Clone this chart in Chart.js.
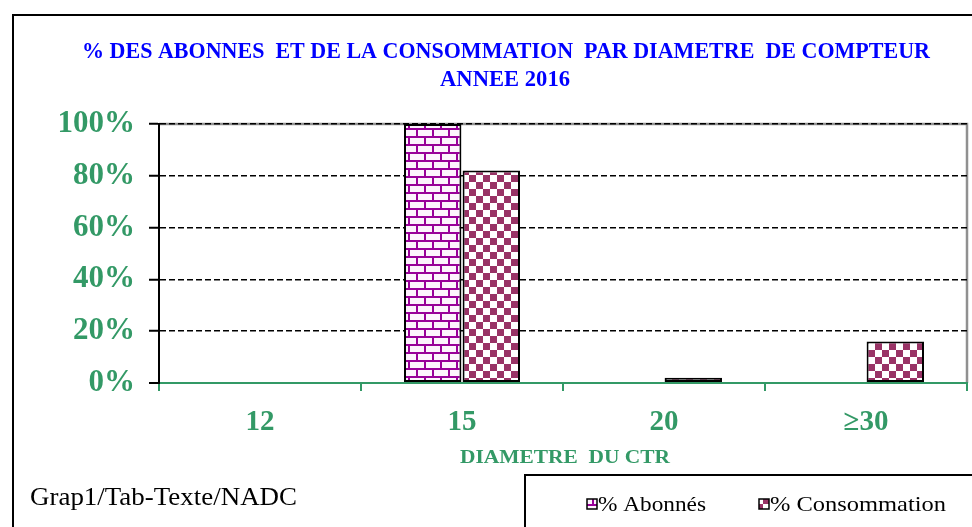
<!DOCTYPE html>
<html>
<head>
<meta charset="utf-8">
<script src="https://cdn.jsdelivr.net/npm/chart.js@4.4.1/dist/chart.umd.min.js"></script>
<style>
html, body { margin: 0; padding: 0; background: #fff; }
#wrap { width: 972px; height: 527px; }
</style>
</head>
<body>
<div id="wrap"><canvas id="chart" width="972" height="527"></canvas></div>
<script>
const categories = ['12', '15', '20', '\u226530'];
const abonnes = [0, 100, 0, 0];
const consommation = [0, 82, 2, 16];
const yTicks = [0, 20, 40, 60, 80, 100];
const titleLines = ['% DES ABONNES  ET DE LA CONSOMMATION  PAR DIAMETRE  DE COMPTEUR', 'ANNEE 2016'];
const xTitle = 'DIAMETRE  DU CTR';
const seriesNames = ['% Abonnés', '% Consommation'];
const sourceNote = 'Grap1/Tab-Texte/NADC';

const green = '#339966';
const serif = "'Liberation Serif', 'Times New Roman', serif";

// brick fill for the first series
function brickPattern() {
    const c = document.createElement('canvas');
    c.width = 16; c.height = 16;
    const g = c.getContext('2d');
    g.fillStyle = '#fdf3fd';
    g.fillRect(0, 0, 16, 16);
    g.fillStyle = '#990099';
    g.fillRect(0, 0, 16, 2);
    g.fillRect(0, 8, 16, 2);
    g.fillRect(0, 0, 2, 8);
    g.fillRect(8, 8, 2, 8);
    return g.createPattern(c, 'repeat');
}

// checker fill for the second series
function checkerPattern() {
    const c = document.createElement('canvas');
    c.width = 14; c.height = 14;
    const g = c.getContext('2d');
    g.fillStyle = '#ffffff';
    g.fillRect(0, 0, 14, 14);
    g.fillStyle = '#993366';
    g.fillRect(0, 0, 7, 7);
    g.fillRect(7, 7, 7, 7);
    return g.createPattern(c, 'repeat');
}

const fills = [brickPattern(), checkerPattern()];

// draw text squeezed or stretched to a given width
function fitText(ctx, text, x, y, width, align) {
    const w = ctx.measureText(text).width;
    ctx.save();
    ctx.translate(x, y);
    ctx.scale(width / w, 1);
    ctx.textAlign = align;
    ctx.fillText(text, 0, 0);
    ctx.restore();
}

const decor = {
    id: 'decor',
    beforeDraw(chart) {
        const ctx = chart.ctx;
        const a = chart.chartArea;
        ctx.save();
        // plot top and right border, under the grid
        ctx.strokeStyle = '#909090';
        ctx.lineWidth = 2.5;
        ctx.beginPath();
        ctx.moveTo(a.left, a.top);
        ctx.lineTo(a.right, a.top);
        ctx.lineTo(a.right, a.bottom);
        ctx.stroke();
        ctx.restore();
    },
    afterDraw(chart) {
        const ctx = chart.ctx;
        ctx.save();

        // outer frame
        ctx.strokeStyle = '#000';
        ctx.lineWidth = 2;
        ctx.beginPath();
        ctx.moveTo(13, 540);
        ctx.lineTo(13, 15);
        ctx.lineTo(980, 15);
        ctx.stroke();

        // title
        ctx.fillStyle = '#0000ff';
        ctx.font = 'bold 23px ' + serif;
        ctx.textBaseline = 'middle';
        fitText(ctx, titleLines[0], 506, 52, 848, 'center');
        fitText(ctx, titleLines[1], 505, 80, 130, 'center');

        // axis title
        ctx.fillStyle = green;
        ctx.font = 'bold 19px ' + serif;
        fitText(ctx, xTitle, 565, 458, 210, 'center');

        // source note
        ctx.fillStyle = '#000';
        ctx.font = '25px ' + serif;
        fitText(ctx, sourceNote, 30, 498, 267, 'left');

        // legend box
        ctx.strokeStyle = '#000';
        ctx.lineWidth = 2;
        ctx.strokeRect(525, 475, 460, 70);
        ctx.font = '22px ' + serif;
        const items = [{ x: 587, w: 108 }, { x: 759, w: 176 }];
        chart.data.datasets.forEach((ds, i) => {
            const it = items[i];
            ctx.fillStyle = fills[i];
            ctx.fillRect(it.x, 499, 10, 10);
            ctx.strokeStyle = '#000';
            ctx.lineWidth = 1.5;
            ctx.strokeRect(it.x, 499, 10, 10);
            ctx.fillStyle = '#000';
            fitText(ctx, ds.label, it.x + 11, 505, it.w, 'left');
        });
        ctx.restore();
    }
};

new Chart(document.getElementById('chart'), {
    type: 'bar',
    data: {
        labels: categories,
        datasets: [
            {
                label: seriesNames[0],
                data: abonnes,
                backgroundColor: fills[0],
                borderColor: '#000',
                borderWidth: c => (c.raw > 0 ? 2 : 0),
                borderSkipped: false,
                categoryPercentage: 0.58,
                barPercentage: 0.98
            },
            {
                label: seriesNames[1],
                data: consommation,
                backgroundColor: fills[1],
                borderColor: '#000',
                borderWidth: c => (c.raw > 0 ? 2 : 0),
                borderSkipped: false,
                categoryPercentage: 0.58,
                barPercentage: 0.98
            }
        ]
    },
    options: {
        responsive: false,
        animation: false,
        devicePixelRatio: 1,
        layout: { padding: { top: 124, right: 5, bottom: 58, left: 0 } },
        plugins: {
            legend: { display: false },
            title: { display: false },
            tooltip: { enabled: false }
        },
        scales: {
            x: {
                offset: true,
                grid: {
                    offset: true,
                    drawOnChartArea: false,
                    color: green,
                    lineWidth: 2,
                    tickLength: 8
                },
                border: { color: green, width: 2 },
                ticks: {
                    color: green,
                    font: { family: serif, size: 29, weight: 'bold' },
                    padding: 14
                },
                afterFit(scale) { scale.height = 86; }
            },
            y: {
                min: 0,
                max: 100,
                afterBuildTicks(scale) { scale.ticks = yTicks.map(v => ({ value: v })); },
                grid: {
                    color: c => (c.tick.value === 0 ? green : '#000'),
                    lineWidth: c => (c.tick.value === 0 ? 2 : 1.5),
                    tickColor: '#000',
                    tickBorderDash: [],
                    tickWidth: 2,
                    tickLength: 10
                },
                border: { color: '#000', width: 2, dash: [6, 3] },
                ticks: {
                    color: green,
                    font: { family: serif, size: 31, weight: 'bold' },
                    padding: 14,
                    callback: v => v + '%'
                },
                afterFit(scale) { scale.width = 159; }
            }
        }
    },
    plugins: [decor]
});
</script>
</body>
</html>
